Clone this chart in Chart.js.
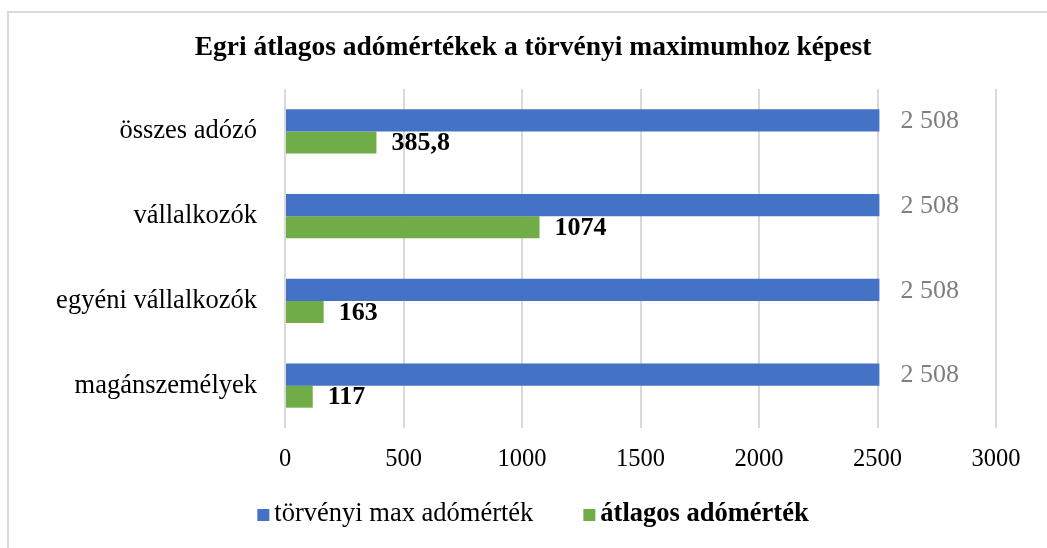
<!DOCTYPE html>
<html><head><meta charset="utf-8">
<script src="https://cdn.jsdelivr.net/npm/chart.js@4"></script>
<style>
html,body{margin:0;padding:0;background:#fff;overflow:hidden;width:1047px;height:548px;}
#wrap{position:absolute;left:0;top:0;width:1066px;height:560px;}
#frame{position:absolute;left:7px;top:11px;width:1100px;height:600px;border:2px solid #d9d9d9;box-sizing:border-box;pointer-events:none;}
canvas{position:absolute;left:0;top:0;}
</style></head><body>
<div id="wrap"><canvas id="c" width="1066" height="560"></canvas><div id="frame"></div></div>
<script>
const titleText = 'Egri átlagos adómértékek a törvényi maximumhoz képest';
const categories = ['összes adózó', 'vállalkozók', 'egyéni vállalkozók', 'magánszemélyek'];
const seriesNames = ['törvényi max adómérték', 'átlagos adómérték'];
const maxRates = [2508, 2508, 2508, 2508];
const avgRates = [385.8, 1074, 163, 117];
const xTickLabels = ['0', '500', '1000', '1500', '2000', '2500', '3000'];

const FONT = '"Liberation Serif", "Times New Roman", serif';
const BLUE = '#4472c4', GREEN = '#70ad47';

const fmtMax = v => String(v).replace(/\B(?=(\d{3})+(?!\d))/g, ' ');
const fmtAvg = v => String(v).replace('.', ',');

const layoutFix = {
  id: 'layoutFix',
  afterLayout(chart) {
    chart.titleBlock.left = 0;
    chart.titleBlock.right = chart.width;
  }
};

const valueLabels = {
  id: 'valueLabels',
  afterDatasetsDraw(chart) {
    const ctx = chart.ctx;
    const styles = [
      {font: '26px ' + FONT, color: '#7f7f7f', off: 21, fmt: fmtMax},
      {font: 'bold 26px ' + FONT, color: '#000000', off: 15, fmt: fmtAvg}
    ];
    chart.data.datasets.forEach((ds, di) => {
      const meta = chart.getDatasetMeta(di);
      const st = styles[di];
      meta.data.forEach((bar, i) => {
        ctx.save();
        ctx.font = st.font;
        ctx.fillStyle = st.color;
        ctx.textAlign = 'left';
        ctx.textBaseline = 'middle';
        ctx.fillText(st.fmt(ds.data[i]), bar.x + st.off, bar.y + 1);
        ctx.restore();
      });
    });
  }
};

const customLegend = {
  id: 'customLegend',
  afterDraw(chart) {
    const ctx = chart.ctx;
    const items = chart.data.datasets.map((ds, i) => ({
      text: ds.label, color: ds.backgroundColor,
      font: (i === 1 ? 'bold ' : '') + '26.5px ' + FONT
    }));
    const sq = 12, gapBT = 5, gapItems = 50;
    ctx.save();
    let total = 0;
    items.forEach((it, i) => {
      ctx.font = it.font;
      it.w = ctx.measureText(it.text).width;
      total += sq + gapBT + it.w + (i ? gapItems : 0);
    });
    let x = chart.width / 2 - total / 2;
    const y = 514;
    items.forEach(it => {
      ctx.fillStyle = it.color;
      ctx.fillRect(x, y - 5, sq, sq);
      x += sq + gapBT;
      ctx.font = it.font;
      ctx.fillStyle = '#000000';
      ctx.textAlign = 'left';
      ctx.textBaseline = 'middle';
      ctx.fillText(it.text, x, y);
      x += it.w + gapItems;
    });
    ctx.restore();
  }
};

new Chart(document.getElementById('c'), {
  type: 'bar',
  data: {
    labels: categories,
    datasets: [
      {label: seriesNames[0], data: maxRates, backgroundColor: BLUE, borderWidth: 0},
      {label: seriesNames[1], data: avgRates, backgroundColor: GREEN, borderWidth: 0}
    ]
  },
  options: {
    indexAxis: 'y',
    responsive: false,
    animation: false,
    events: [],
    categoryPercentage: 0.52,
    barPercentage: 1.0,
    layout: {padding: {left: 0, right: 70, top: 0, bottom: 82}},
    plugins: {
      legend: {display: false},
      tooltip: {enabled: false},
      title: {
        display: true,
        text: titleText,
        color: '#000000',
        font: {family: FONT, size: 27.5, weight: 'bold', lineHeight: 1.2},
        padding: {top: 31, bottom: 25}
      }
    },
    scales: {
      x: {
        min: 0, max: 3000,
        afterBuildTicks(scale) {
          scale.ticks = xTickLabels.map(t => ({value: Number(t)}));
        },
        afterFit(scale) { scale.height = 50; },
        grid: {display: true, drawTicks: false, color: '#d9d9d9', lineWidth: 2},
        border: {display: false},
        ticks: {
          padding: 17,
          color: '#000000',
          font: {family: FONT, size: 24.5},
          maxRotation: 0,
          callback: (v, i) => xTickLabels[i]
        }
      },
      y: {
        afterFit(scale) { scale.width = 285; },
        grid: {display: false, drawTicks: false},
        border: {display: false},
        ticks: {
          padding: 28,
          color: '#000000',
          font: {family: FONT, size: 26.5}
        }
      }
    }
  },
  plugins: [layoutFix, valueLabels, customLegend]
});
</script>
</body></html>
